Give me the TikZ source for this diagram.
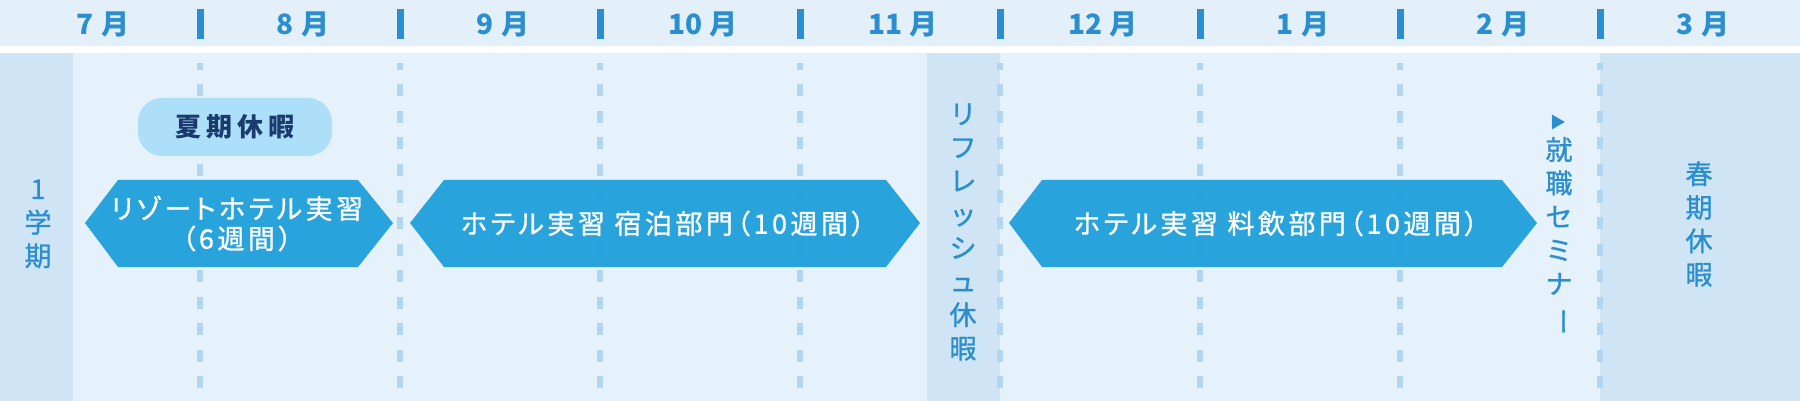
\documentclass[tikz,border=0pt]{standalone}
\usepackage{fontspec}
\setmainfont{Noto Sans CJK JP}
\newfontfamily\jparrow[FakeBold=1,RawFeature=+palt,LetterSpace=13]{Noto Sans CJK JP}
\newfontfamily\jpmed[FakeBold=1]{Noto Sans CJK JP}
\definecolor{hdrbg}{HTML}{E3F0FA}
\definecolor{bodybg}{HTML}{E6F2FB}
\definecolor{colbg}{HTML}{CFE5F5}
\definecolor{dashc}{HTML}{B3D6F0}
\definecolor{mblue}{HTML}{2A8ED0}
\definecolor{arrowc}{HTML}{1F9FDB}
\definecolor{pillc}{HTML}{ADDFF8}
\definecolor{navy}{HTML}{1B3A6E}
\begin{document}
\begin{tikzpicture}[x=1pt,y=-1pt,
  month/.style={text=mblue,font=\fontsize{28}{30}\selectfont\bfseries,inner sep=0pt},
  tick/.style={fill=mblue},
  dashline/.style={draw=dashc,line width=6.5pt,dash pattern=on 12pt off 14.5pt,dash phase=5pt},
  arrowshape/.style={fill=arrowc,fill opacity=0.95},
  arrowtext/.style={text=white,font=\jparrow\fontsize{27}{30}\selectfont,align=center,inner sep=0pt},
  vtext/.style={text=mblue,font=\jpmed\fontsize{27}{33.5}\selectfont,align=center,inner sep=0pt},
  pill/.style={fill=pillc,rounded corners=24pt,minimum width=194pt,minimum height=58pt,inner sep=0pt,
    text=navy,font=\fontsize{26}{28}\selectfont\bfseries}
]
\useasboundingbox (0,0) rectangle (1800,401);
% backgrounds
\fill[hdrbg] (0,0) rectangle (1800,46);
\fill[white] (0,46) rectangle (1800,53);
\fill[bodybg] (0,53) rectangle (1800,401);
\fill[colbg] (0,53) rectangle (73,401);
\fill[colbg] (927,53) rectangle (1000,401);
\fill[colbg] (1600,53) rectangle (1800,401);
% month header
\foreach \m [count=\i from 0] in {7,8,9,10,11,12,1,2,3}
  \node[month] (m\i) at ({103+200*\i},24.5) {\m\hspace{7pt}月};
\foreach \i in {1,...,8}
  \fill[tick] ({200*\i-3.5},9) rectangle ({200*\i+3.5},39);
% dashed month separators
\foreach \i in {1,...,8}
  \draw[dashline] ({200*\i},63) -- ({200*\i},401);
% summer holiday pill
\node[pill] (summer) at (235,127) {夏\hspace{5pt}期\hspace{5pt}休\hspace{5pt}暇};
% arrows
\fill[arrowshape] (85,223) -- (118,180) -- (358,180) -- (393,223) -- (358,267) -- (118,267) -- cycle;
\node[arrowtext] (a1) at (237,223.5) {リゾートホテル実習\\（6週間）};
\fill[arrowshape] (410,223) -- (444,180) -- (886,180) -- (920,223) -- (886,267) -- (444,267) -- cycle;
\node[arrowtext] (a2) at (663,223.5) {ホテル実習 宿泊部門（10週間）};
\fill[arrowshape] (1009,223) -- (1042,180) -- (1502,180) -- (1537,223) -- (1502,267) -- (1042,267) -- cycle;
\node[arrowtext] (a3) at (1276,223.5) {ホテル実習 料飲部門（10週間）};
% vertical labels
\node[vtext] (term1) at (38,224) {1\\学\\期};
\node[vtext] (refresh) at (963,232) {リ\\フ\\レ\\ッ\\シ\\ュ\\休\\暇};
\node[vtext] (spring) at (1699,224) {春\\期\\休\\暇};
\node[text=mblue,font=\fontsize{16}{18}\selectfont,inner sep=0pt] (tri) at (1558,122) {▶};
\node[vtext] (seminar) at (1559,236) {就\\職\\セ\\ミ\\ナ\\\rotatebox[origin=c]{-90}{ー}};
\end{tikzpicture}
\end{document}
